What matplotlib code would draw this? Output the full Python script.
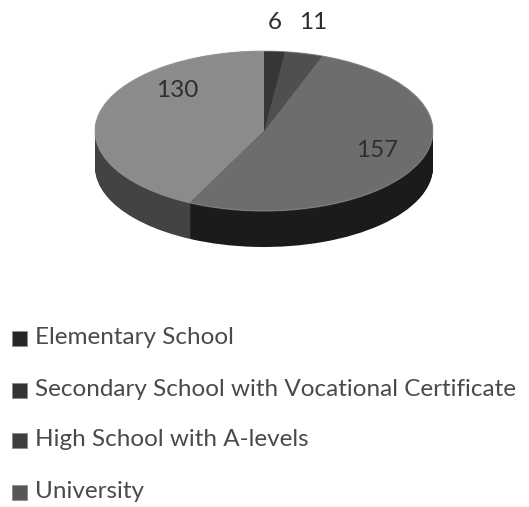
import numpy as np
import matplotlib.pyplot as plt
from matplotlib.patches import Rectangle, Ellipse

categories = ["Elementary School",
              "Secondary School with Vocational Certificate",
              "High School with A-levels",
              "University"]
counts = [6, 11, 157, 130]

top_colors = ["#363636", "#4f4f4f", "#6d6d6d", "#8b8b8b"]
side_colors = ["#202020", "#2c2c2c", "#1b1b1b", "#434343"]
legend_colors = ["#262626", "#343434", "#3e3e3e", "#575757"]
# where each count is written, in pie units
label_xy = [(0.065, 1.36), (0.29, 1.36), (0.67, -0.24), (-0.515, 0.51)]

W, H = 529, 507
cx, cy = 264, 131      # pie centre in pixels
rx, ry = 169, 80       # horizontal / vertical radius in pixels
depth = 36 / ry        # thickness of the disc

plt.rcParams['font.family'] = ['Lato', 'DejaVu Sans']

fig = plt.figure(figsize=(W / 100, H / 100), dpi=100)
ax = fig.add_axes([0, 0, 1, 1])

# side wall: stack of darker pies from the bottom up
n_layers = 45
for k in range(n_layers):
    off = -depth * (1 - k / (n_layers - 1))
    ax.pie(counts, colors=side_colors, startangle=90, counterclock=False,
           center=(0, off), wedgeprops=dict(linewidth=0))

# top face
wedges, _ = ax.pie(counts, colors=top_colors, startangle=90, counterclock=False,
                   center=(0, 0), wedgeprops=dict(linewidth=0))

# thin light rim round the top face
ax.add_patch(Ellipse((0, 0), 2, 2, fill=False, edgecolor='#a0a0a0',
                     linewidth=0.8, alpha=0.6))

# squash the circles into ellipses
ax.set_aspect('auto')
ax.set_xlim((0 - cx) / rx, (W - cx) / rx)
ax.set_ylim((cy - H) / ry, (cy - 0) / ry)
ax.axis('off')

for (x, y), v in zip(label_xy, counts):
    ax.text(x, y, str(v), ha='center', va='center', fontsize=17.5, color='#2e2e2e')

# legend
rows_y = [338, 390, 440, 492]
for name, col, y in zip(categories, legend_colors, rows_y):
    fig.patches.append(Rectangle((12 / W, 1 - (y + 7.5) / H), 15 / W, 15 / H,
                                 transform=fig.transFigure, facecolor=col,
                                 edgecolor='#8a8a8a', linewidth=0.6))
    fig.text(35 / W, 1 - y / H, name, ha='left', va='center',
             fontsize=17.5, color='#4a4a4a')

fig.savefig("out.png", dpi=100)
